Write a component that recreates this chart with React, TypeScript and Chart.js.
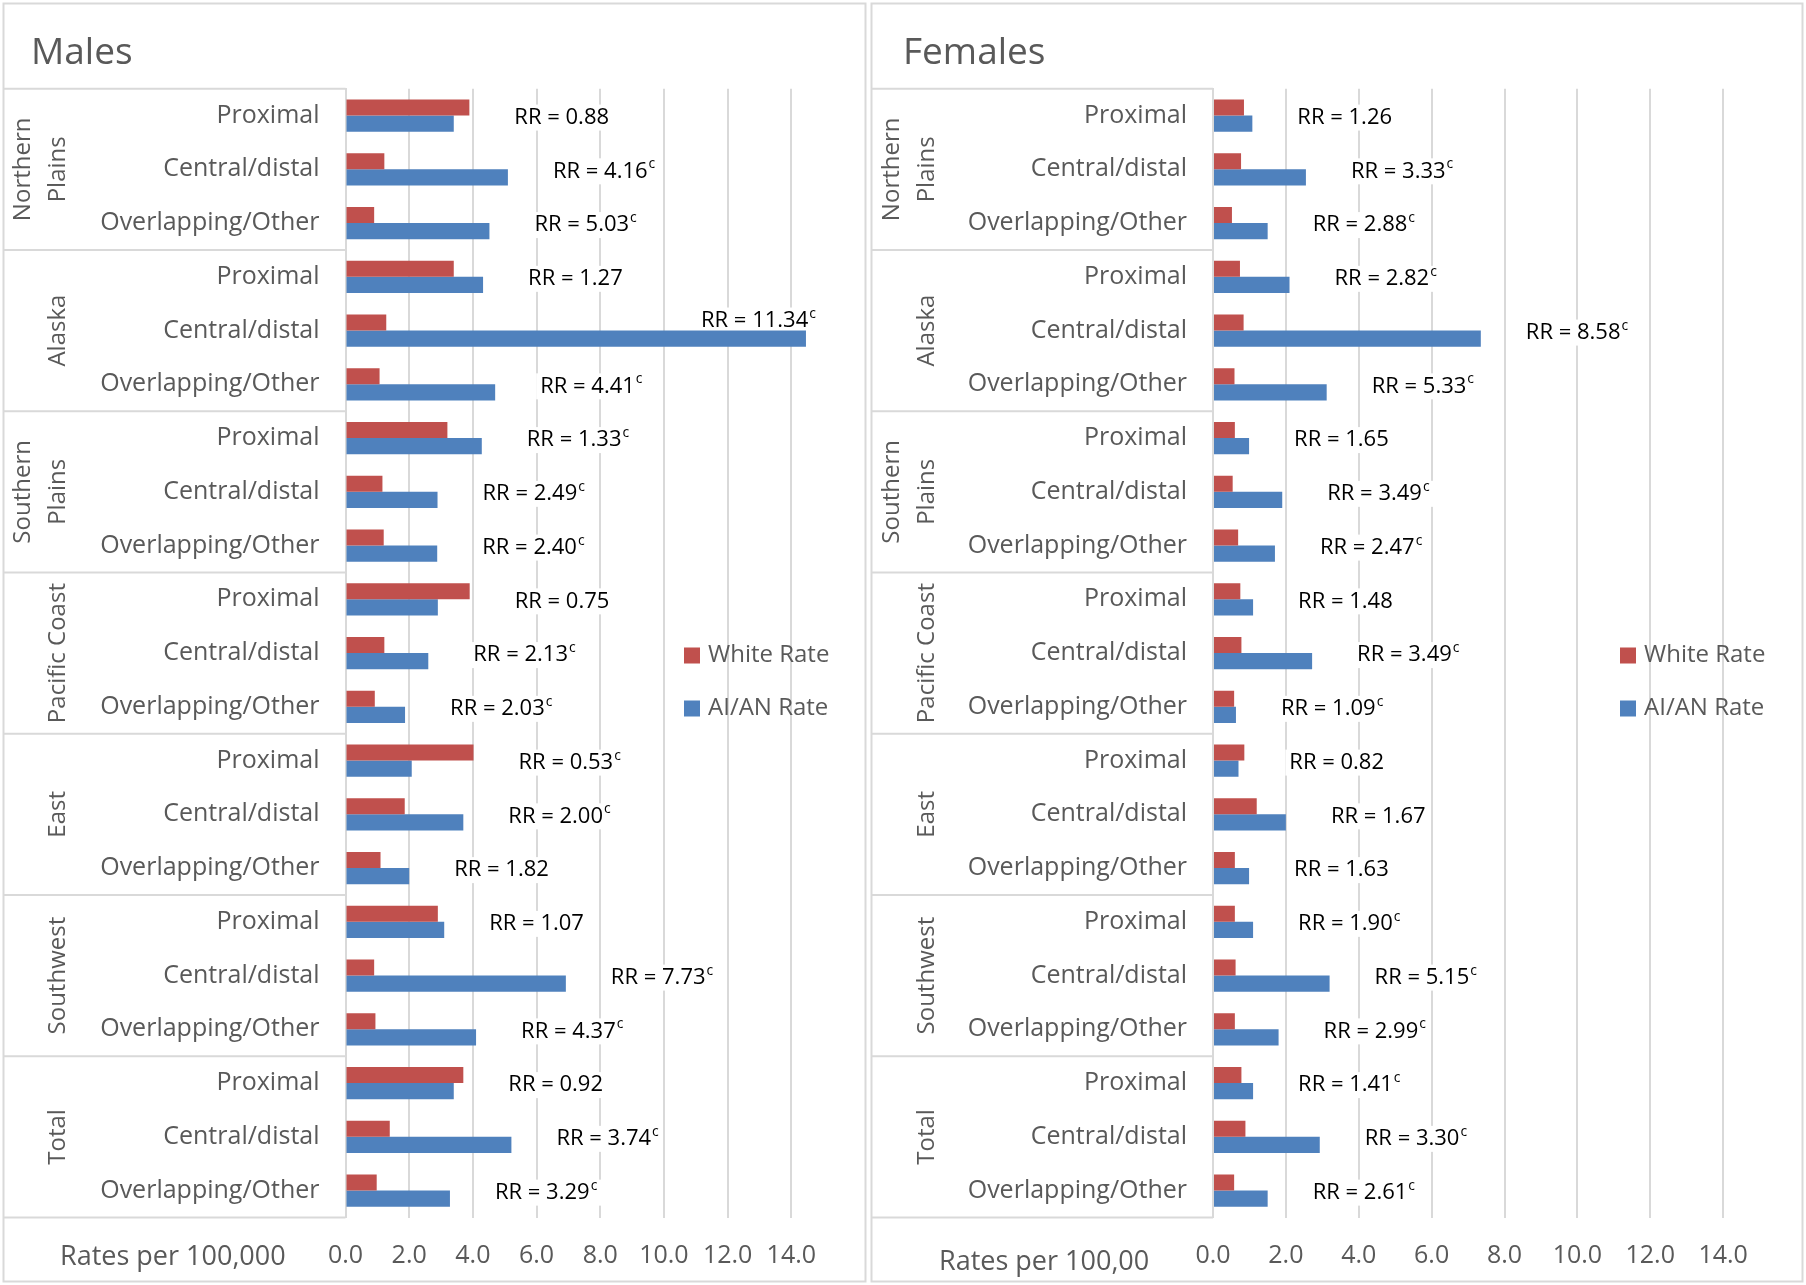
import React, { useEffect, useRef } from "react";
import { Chart, registerables } from "chart.js";

Chart.register(...registerables);

// ---------- data ----------
const REGION_LINES: string[][] = [
  ["Northern", "Plains"],
  ["Alaska"],
  ["Southern", "Plains"],
  ["Pacific Coast"],
  ["East"],
  ["Southwest"],
  ["Total"],
];
const SITES = ["Proximal", "Central/distal", "Overlapping/Other"];
const SERIES_NAMES = ["White Rate", "AI/AN Rate"];
const AXIS_MAX = 16;
const AXIS_STEP = 2;
const LAST_TICK_LABEL = 14;

// Males (rows: region x site, in order)
const MALE_WHITE = [
  3.89, 1.22, 0.9,
  3.4, 1.28, 1.07,
  3.2, 1.16, 1.2,
  3.9, 1.22, 0.92,
  4.02, 1.86, 1.1,
  2.9, 0.9, 0.94,
  3.7, 1.39, 0.98,
];
const MALE_AIAN = [
  3.4, 5.1, 4.52,
  4.32, 14.46, 4.7,
  4.28, 2.89, 2.88,
  2.9, 2.6, 1.87,
  2.08, 3.7, 2.0,
  3.1, 6.92, 4.1,
  3.4, 5.21, 3.28,
];
const MALE_RR = [
  "0.88", "4.16", "5.03",
  "1.27", "11.34", "4.41",
  "1.33", "2.49", "2.40",
  "0.75", "2.13", "2.03",
  "0.53", "2.00", "1.82",
  "1.07", "7.73", "4.37",
  "0.92", "3.74", "3.29",
];
const MALE_SIG = [
  false, true, true,
  false, true, true,
  true, true, true,
  false, true, true,
  true, true, false,
  false, true, true,
  false, true, true,
];

// Females
const FEMALE_WHITE = [
  0.85, 0.77, 0.52,
  0.74, 0.84, 0.59,
  0.6, 0.54, 0.69,
  0.75, 0.78, 0.58,
  0.86, 1.2, 0.6,
  0.6, 0.62, 0.6,
  0.78, 0.89, 0.58,
];
const FEMALE_AIAN = [
  1.08, 2.55, 1.5,
  2.1, 7.35, 3.12,
  0.99, 1.9, 1.7,
  1.1, 2.72, 0.63,
  0.7, 2.0, 0.99,
  1.1, 3.2, 1.8,
  1.1, 2.93, 1.5,
];
const FEMALE_RR = [
  "1.26", "3.33", "2.88",
  "2.82", "8.58", "5.33",
  "1.65", "3.49", "2.47",
  "1.48", "3.49", "1.09",
  "0.82", "1.67", "1.63",
  "1.90", "5.15", "2.99",
  "1.41", "3.30", "2.61",
];
const FEMALE_SIG = [
  false, true, true,
  true, true, true,
  false, true, true,
  false, true, true,
  false, false, false,
  true, true, true,
  true, true, true,
];

// ---------- styles ----------
const RED = "#C0504D";
const BLUE = "#4F81BD";
const GRAY_TEXT = "#595959";
const GRID = "#D9D9D9";
const FONT = "'Open Sans', 'Noto Sans', sans-serif";
const CANVAS_H = 1285;

type PanelSpec = {
  title: string;
  axisTitle: string;
  white: number[];
  aian: number[];
  rr: string[];
  sig: boolean[];
  left: number;
  width: number;
  plotLeft: number;
  plotRight: number;
  borderLeft: number;
  borderRight: number;
  titleX: number;
  axisTitleX: number;
  axisTitleY: number;
  legendX: number;
};

const PANELS: PanelSpec[] = [
  {
    title: "Males",
    axisTitle: "Rates per 100,000",
    white: MALE_WHITE,
    aian: MALE_AIAN,
    rr: MALE_RR,
    sig: MALE_SIG,
    left: 0,
    width: 869,
    plotLeft: 345.5,
    plotRight: 855,
    borderLeft: 3.5,
    borderRight: 865.5,
    titleX: 31,
    axisTitleX: 60,
    axisTitleY: 1257,
    legendX: 684,
  },
  {
    title: "Females",
    axisTitle: "Rates per 100,00",
    white: FEMALE_WHITE,
    aian: FEMALE_AIAN,
    rr: FEMALE_RR,
    sig: FEMALE_SIG,
    left: 869,
    width: 937,
    plotLeft: 344,
    plotRight: 927,
    borderLeft: 2.5,
    borderRight: 933.5,
    titleX: 34,
    axisTitleX: 70,
    axisTitleY: 1262,
    legendX: 751,
  },
];

function Panel({ spec }: { spec: PanelSpec }) {
  const ref = useRef<HTMLCanvasElement | null>(null);

  useEffect(() => {
    const canvas = ref.current;
    if (!canvas) return;

    const labelBoxes = (chart: any) => {
      const ctx = chart.ctx as CanvasRenderingContext2D;
      const xs = chart.scales.x;
      const ys = chart.scales.y;
      const out: any[] = [];
      ctx.save();
      for (let i = 0; i < spec.rr.length; i++) {
        const main = "RR = " + spec.rr[i];
        ctx.font = `22px ${FONT}`;
        const wMain = ctx.measureText(main).width;
        ctx.font = `14px ${FONT}`;
        const wSup = spec.sig[i] ? ctx.measureText("c").width + 1 : 0;
        const w = wMain + wSup;
        const barEnd = xs.getPixelForValue(Math.max(spec.white[i], spec.aian[i]));
        let x = barEnd + 45;
        let y = ys.getPixelForValue(i) + 2;
        if (x + w > chart.width - 10) {
          x = barEnd + 10 - w;
          const redBar = chart.getDatasetMeta(0).data[i] as any;
          y = redBar.y - 2;
        }
        out.push({ x, y, main, wMain, w, sig: spec.sig[i] });
      }
      ctx.restore();
      return out;
    };

    const extras = {
      id: "panelExtras",
      beforeDraw(chart: any) {
        const ctx = chart.ctx as CanvasRenderingContext2D;
        const ys = chart.scales.y;
        const area = chart.chartArea;
        ctx.save();
        ctx.fillStyle = "#FFFFFF";
        ctx.fillRect(0, 0, chart.width, chart.height);
        // panel border
        ctx.strokeStyle = GRID;
        ctx.lineWidth = 2;
        ctx.strokeRect(spec.borderLeft, 3.5, spec.borderRight - spec.borderLeft, CANVAS_H - 7);
        // group separators of the category table
        for (let g = 0; g <= REGION_LINES.length; g++) {
          const y = ys.getPixelForValue(g * SITES.length - 0.5);
          ctx.beginPath();
          ctx.moveTo(spec.borderLeft, y);
          ctx.lineTo(area.left, y);
          ctx.stroke();
        }
        ctx.restore();
      },
      beforeDatasetsDraw(chart: any) {
        const ctx = chart.ctx as CanvasRenderingContext2D;
        const boxes = labelBoxes(chart);
        ctx.save();
        ctx.fillStyle = "#FFFFFF";
        for (const b of boxes) {
          ctx.fillRect(b.x - 4, b.y - 13, b.w + 8, 26);
        }
        ctx.restore();
      },
      afterDraw(chart: any) {
        const ctx = chart.ctx as CanvasRenderingContext2D;
        const ys = chart.scales.y;
        ctx.save();
        // title
        ctx.fillStyle = GRAY_TEXT;
        ctx.font = `37px ${FONT}`;
        ctx.textAlign = "left";
        ctx.textBaseline = "alphabetic";
        ctx.fillText(spec.title, spec.titleX, 64);

        // group (region) labels, rotated
        ctx.font = `24px ${FONT}`;
        ctx.textAlign = "center";
        ctx.textBaseline = "middle";
        REGION_LINES.forEach((lines, g) => {
          const yc =
            (ys.getPixelForValue(g * SITES.length - 0.5) +
              ys.getPixelForValue((g + 1) * SITES.length - 0.5)) /
            2;
          lines.forEach((line, k) => {
            const x = 58 - (lines.length - 1 - k) * 34.5;
            ctx.save();
            ctx.translate(x, yc);
            ctx.rotate(-Math.PI / 2);
            ctx.fillText(line, 0, 0);
            ctx.restore();
          });
        });

        // axis title (bottom-left)
        ctx.font = `27px ${FONT}`;
        ctx.textAlign = "left";
        ctx.textBaseline = "middle";
        ctx.fillText(spec.axisTitle, spec.axisTitleX, spec.axisTitleY);

        // legend
        const colors = [RED, BLUE];
        SERIES_NAMES.forEach((name, k) => {
          const yc = 655.5 + k * 53;
          ctx.fillStyle = colors[k];
          ctx.fillRect(spec.legendX, yc - 8, 16, 16);
          ctx.fillStyle = GRAY_TEXT;
          ctx.font = `24px ${FONT}`;
          ctx.textAlign = "left";
          ctx.textBaseline = "middle";
          ctx.fillText(name, spec.legendX + 24, yc);
        });

        // RR labels
        const boxes = labelBoxes(chart);
        ctx.fillStyle = "#000000";
        ctx.textAlign = "left";
        ctx.textBaseline = "middle";
        for (const b of boxes) {
          ctx.font = `22px ${FONT}`;
          ctx.fillText(b.main, b.x, b.y);
          if (b.sig) {
            ctx.font = `14px ${FONT}`;
            ctx.fillText("c", b.x + b.wMain + 1, b.y - 7);
          }
        }
        ctx.restore();
      },
    };

    const labels = spec.white.map((_, i) => SITES[i % SITES.length]);

    const chart = new Chart(canvas, {
      type: "bar",
      data: {
        labels,
        datasets: [
          {
            label: SERIES_NAMES[0],
            data: spec.white,
            backgroundColor: RED,
            categoryPercentage: 0.6,
            barPercentage: 1.0,
          },
          {
            label: SERIES_NAMES[1],
            data: spec.aian,
            backgroundColor: BLUE,
            categoryPercentage: 0.6,
            barPercentage: 1.0,
          },
        ],
      },
      options: {
        indexAxis: "y",
        responsive: false,
        animation: false,
        layout: {
          padding: {
            left: 4,
            top: 88.7,
            right: spec.width - spec.plotRight,
            bottom: 0,
          },
        },
        plugins: {
          legend: { display: false },
          tooltip: { enabled: false },
          title: { display: false },
        },
        scales: {
          x: {
            min: 0,
            max: AXIS_MAX,
            ticks: {
              stepSize: AXIS_STEP,
              autoSkip: false,
              maxRotation: 0,
              color: GRAY_TEXT,
              font: { family: FONT, size: 25 },
              padding: 23.5,
              callback: (v: any) => (Number(v) > LAST_TICK_LABEL ? "" : Number(v).toFixed(1)),
            },
            grid: {
              color: (c: any) =>
                c.tick && c.tick.value > LAST_TICK_LABEL ? "rgba(0,0,0,0)" : GRID,
              lineWidth: 2,
              drawTicks: false,
            },
            border: { display: false },
            afterFit: (s: any) => {
              s.height = CANVAS_H - 1217.5;
              s.paddingLeft = 0;
              s.paddingRight = 0;
            },
          },
          y: {
            ticks: {
              autoSkip: false,
              color: GRAY_TEXT,
              font: { family: FONT, size: 25 },
              padding: 26,
            },
            grid: { display: false, drawTicks: false },
            border: { display: true, color: GRID, width: 2 },
            afterFit: (s: any) => {
              s.width = spec.plotLeft - 4;
              s.paddingTop = 0;
              s.paddingBottom = 0;
            },
          },
        },
      } as any,
      plugins: [extras],
    });

    return () => {
      chart.destroy();
    };
  }, [spec]);

  return (
    <canvas
      ref={ref}
      width={spec.width}
      height={CANVAS_H}
      style={{
        position: "absolute",
        left: spec.left,
        top: 0,
        width: spec.width,
        height: CANVAS_H,
        display: "block",
      }}
    />
  );
}

export default function App() {
  return (
    <div
      style={{
        position: "absolute",
        left: 0,
        top: 0,
        width: 1806,
        height: CANVAS_H,
        background: "#FFFFFF",
        overflow: "hidden",
      }}
    >
      {PANELS.map((p) => (
        <Panel key={p.title} spec={p} />
      ))}
    </div>
  );
}
